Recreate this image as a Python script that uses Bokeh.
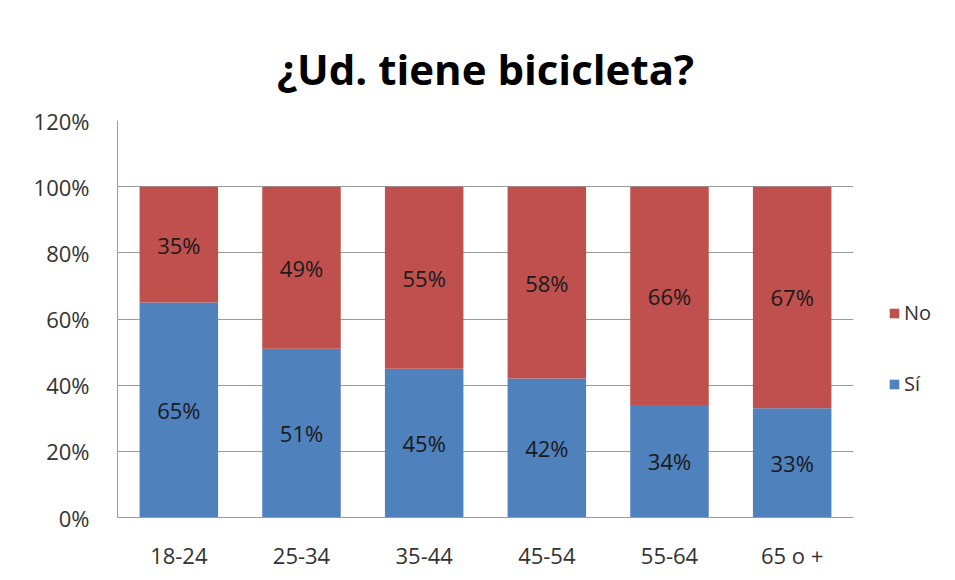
from bokeh.plotting import figure
from bokeh.models import ColumnDataSource, Legend, LegendItem, FixedTicker, Range1d
from bokeh.core.properties import value
from bokeh.embed import file_html
from bokeh.resources import INLINE

categories = ["18-24", "25-34", "35-44", "45-54", "55-64", "65 o +"]
si = [65, 51, 45, 42, 34, 33]
no = [35, 49, 55, 58, 66, 67]
y_ticks = [0, 20, 40, 60, 80, 100, 120]

FONT = "Open Sans"
BLUE = "#4F81BD"
RED = "#C0504D"
LBL = "22px"

src = ColumnDataSource(dict(
    cat=categories,
    si=si,
    no=no,
    si_mid=[s / 2 for s in si],
    no_mid=[s + n / 2 for s, n in zip(si, no)],
    si_lab=[f"{s}%" for s in si],
    no_lab=[f"{n}%" for n in no],
))

p = figure(x_range=categories, y_range=Range1d(0, 120), width=947, height=572,
           frame_width=736, frame_height=397,
           output_backend="svg", toolbar_location=None,
           min_border_left=117, min_border_right=94, min_border_top=120, min_border_bottom=55)
p.title.text = "¿Ud. tiene bicicleta?"
p.title.text_font = FONT
p.title.text_font_size = "42px"
p.title.text_font_style = "bold"
p.title.text_color = "#000000"
p.title.align = "center"
p.title.standoff = 48

p.outline_line_color = None
p.border_fill_color = "white"

rs = p.vbar_stack(["si", "no"], x="cat", width=0.64, source=src,
                  color=[BLUE, RED], line_color=None)

p.text(x="cat", y="si_mid", text="si_lab", source=src, text_align="center",
       text_baseline="middle", text_font=value(FONT), text_font_size=LBL, text_color="#1a1a1a")
p.text(x="cat", y="no_mid", text="no_lab", source=src, text_align="center",
       text_baseline="middle", text_font=value(FONT), text_font_size=LBL, text_color="#1a1a1a")

p.yaxis.ticker = FixedTicker(ticks=y_ticks)
p.yaxis.major_label_overrides = {t: f"{t}%" for t in y_ticks}

for ax in (p.xaxis[0], p.yaxis[0]):
    ax.axis_line_color = "#9a9a9a"
    ax.major_tick_line_color = None
    ax.minor_tick_line_color = None
    ax.major_label_text_font = FONT
    ax.major_label_text_font_size = LBL
    ax.major_label_text_color = "#333333"
p.yaxis.major_label_standoff = 22
p.xaxis.major_label_standoff = 16

p.xgrid.grid_line_color = None
p.ygrid.grid_line_color = "#9a9a9a"
p.ygrid.ticker = FixedTicker(ticks=y_ticks)

legend = Legend(items=[LegendItem(label="No", renderers=[rs[1]]),
                       LegendItem(label="Sí", renderers=[rs[0]])],
                location=(35, 120))
legend.label_text_font = FONT
legend.label_text_font_size = "20px"
legend.label_text_color = "#333333"
legend.glyph_width = 12
legend.glyph_height = 12
legend.spacing = 44
legend.border_line_color = None
legend.background_fill_alpha = 0
legend.padding = 0
legend.margin = 0
legend.label_standoff = 4
p.add_layout(legend, "right")

open("out.html", "w").write(file_html(p, INLINE))
